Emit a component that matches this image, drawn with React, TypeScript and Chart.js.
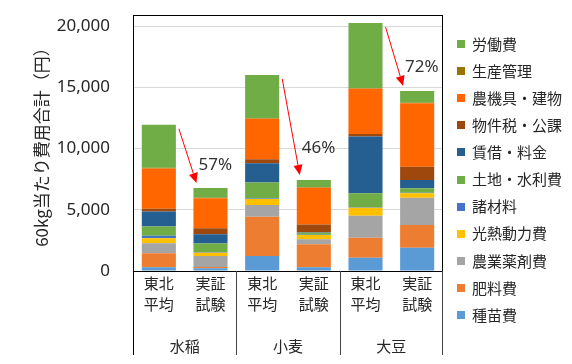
import React, { useEffect, useRef } from "react";
import { Chart, registerables } from "chart.js";

Chart.register(...registerables);

const categories = [
  ["東北", "平均"],
  ["実証", "試験"],
  ["東北", "平均"],
  ["実証", "試験"],
  ["東北", "平均"],
  ["実証", "試験"],
];
const groups = ["水稲", "小麦", "大豆"];
const ratioLabels = ["57%", "46%", "72%"];
const yTicks = [0, 5000, 10000, 15000, 20000];
const yTitle = "60kg当たり費用合計（円）";

// series values (bottom to top of stack)
const seedCost = [300, 220, 1225, 300, 1090, 1900]; // 種苗費
const fertilizer = [1150, 100, 3210, 1880, 1630, 1860]; // 肥料費
const agrochemical = [820, 900, 955, 410, 1800, 2230]; // 農業薬剤費
const energy = [410, 275, 490, 350, 650, 360]; // 光熱動力費
const materials = [190, 40, 40, 20, 40, 30]; // 諸材料
const landWater = [760, 720, 1295, 170, 1140, 380]; // 土地・水利費
const rental = [1225, 740, 1585, 30, 4625, 675]; // 賃借・料金
const taxes = [220, 490, 330, 630, 215, 1085]; // 物件税・公課
const machinery = [3300, 2450, 3300, 3015, 3680, 5180]; // 農機具・建物
const management = [60, 40, 50, 40, 60, 40]; // 生産管理
const labor = [3500, 800, 3530, 590, 5310, 960]; // 労働費

const seriesNames = [
  "種苗費",
  "肥料費",
  "農業薬剤費",
  "光熱動力費",
  "諸材料",
  "土地・水利費",
  "賃借・料金",
  "物件税・公課",
  "農機具・建物",
  "生産管理",
  "労働費",
];
const seriesValues = [
  seedCost,
  fertilizer,
  agrochemical,
  energy,
  materials,
  landWater,
  rental,
  taxes,
  machinery,
  management,
  labor,
];
const seriesColors = [
  "#5B9BD5",
  "#ED7D31",
  "#A5A5A5",
  "#FFC000",
  "#4472C4",
  "#70AD47",
  "#255E91",
  "#9E480E",
  "#FF6600",
  "#997300",
  "#70AD47",
];

const CJK = "'Noto Sans CJK JP', 'Noto Sans', sans-serif";
const LATIN = "'Noto Sans', 'DejaVu Sans', sans-serif";
const TEXT = "#262626";

const overlayPlugin = {
  id: "overlay",
  afterDatasetsDraw(chart: any) {
    const { ctx, chartArea: a, scales } = chart;
    const x = scales.x;
    ctx.save();
    // frame of plot area
    ctx.strokeStyle = "#000";
    ctx.lineWidth = 1;
    ctx.strokeRect(a.left + 0.5, a.top + 0.5, a.right - a.left - 1, a.bottom - a.top);
    // group separators on category axis
    const sepBottom = a.bottom + 84;
    for (let k = 0; k <= groups.length; k++) {
      let px: number;
      if (k === 0) px = a.left + 0.5;
      else if (k === groups.length) px = a.right - 0.5;
      else px = Math.round((x.getPixelForValue(k * 2 - 1) + x.getPixelForValue(k * 2)) / 2) + 0.5;
      ctx.strokeStyle = k === 0 ? "#000" : "#444";
      ctx.beginPath();
      ctx.moveTo(px, a.bottom);
      ctx.lineTo(px, sepBottom);
      ctx.stroke();
    }
    // group labels
    ctx.fillStyle = TEXT;
    ctx.font = `15px ${CJK}`;
    ctx.textAlign = "center";
    ctx.textBaseline = "middle";
    groups.forEach((g, k) => {
      const cx = (x.getPixelForValue(k * 2) + x.getPixelForValue(k * 2 + 1)) / 2;
      ctx.fillText(g, cx, a.bottom + 75);
    });

    // arrows + ratio labels
    const topMeta = chart.getDatasetMeta(chart.data.datasets.length - 1);
    const labelDy = [23, 32, 24];
    groups.forEach((_, k) => {
      const b1 = topMeta.data[k * 2];
      const b2 = topMeta.data[k * 2 + 1];
      const sx = b1.x + b1.width / 2 + 3;
      const sy = b1.y + 4;
      const ex = b2.x - b2.width / 2 + 3;
      const ey = b2.y - 5;
      const ang = Math.atan2(ey - sy, ex - sx);
      const head = 10;
      const hw = 4.5;
      const bx = ex - head * Math.cos(ang);
      const by = ey - head * Math.sin(ang);
      ctx.strokeStyle = "#FF0000";
      ctx.fillStyle = "#FF0000";
      ctx.lineWidth = 1;
      ctx.beginPath();
      ctx.moveTo(sx, sy);
      ctx.lineTo(bx, by);
      ctx.stroke();
      ctx.beginPath();
      ctx.moveTo(ex, ey);
      ctx.lineTo(bx + hw * Math.sin(ang), by - hw * Math.cos(ang));
      ctx.lineTo(bx - hw * Math.sin(ang), by + hw * Math.cos(ang));
      ctx.closePath();
      ctx.fill();

      ctx.fillStyle = "#333";
      ctx.font = `17px ${LATIN}`;
      ctx.textAlign = "left";
      ctx.textBaseline = "middle";
      ctx.fillText(ratioLabels[k], b2.x - b2.width / 2 + 5, b2.y - labelDy[k]);
    });
    ctx.restore();
  },
  afterDraw(chart: any) {
    const { ctx, chartArea: a } = chart;
    const ds = chart.data.datasets;
    ctx.save();
    ctx.font = `15px ${CJK}`;
    ctx.textAlign = "left";
    ctx.textBaseline = "middle";
    for (let i = 0; i < ds.length; i++) {
      const d = ds[ds.length - 1 - i];
      const cy = a.top + 29 + i * 27.1;
      ctx.fillStyle = d.backgroundColor;
      ctx.fillRect(a.right + 14, Math.round(cy - 4), 8, 8);
      ctx.fillStyle = TEXT;
      ctx.fillText(d.label, a.right + 29, cy);
    }
    ctx.restore();
  },
};

export default function App() {
  const canvasRef = useRef<HTMLCanvasElement | null>(null);

  useEffect(() => {
    const canvas = canvasRef.current;
    if (!canvas) return;
    const chart = new Chart(canvas, {
      type: "bar",
      data: {
        labels: categories as any,
        datasets: seriesNames.map((name, i) => ({
          label: name,
          data: seriesValues[i],
          backgroundColor: seriesColors[i],
          borderWidth: 0,
          barPercentage: 0.66,
          categoryPercentage: 1,
        })),
      },
      options: {
        responsive: false,
        animation: false,
        devicePixelRatio: 1,
        layout: { padding: { top: 15, right: 129, bottom: 0, left: 0 } },
        plugins: {
          legend: { display: false },
          tooltip: { enabled: false },
        },
        scales: {
          x: {
            stacked: true,
            grid: { display: false, drawTicks: false },
            border: { display: false },
            afterFit: (s: any) => {
              s.height = 93;
              s.paddingLeft = 0;
              s.paddingRight = 0;
            },
            ticks: {
              padding: 1,
              autoSkip: false,
              maxRotation: 0,
              color: TEXT,
              font: { family: CJK, size: 15, lineHeight: 1.45 },
            },
          },
          y: {
            stacked: true,
            min: 0,
            max: 20900,
            afterBuildTicks: (s: any) => {
              s.ticks = yTicks.map((v) => ({ value: v }));
            },
            afterFit: (s: any) => {
              s.width = 133;
              s.paddingTop = 0;
              s.paddingBottom = 0;
            },
            grid: { color: "#d9d9d9", drawTicks: false },
            border: { display: false },
            ticks: {
              padding: 23,
              color: TEXT,
              font: { family: LATIN, size: 17 },
              callback: (v: any) => Number(v).toLocaleString("en-US"),
            },
            title: {
              display: true,
              text: yTitle,
              color: TEXT,
              font: { family: CJK, size: 17 },
              padding: { top: 31, bottom: 0 },
            },
          },
        },
      },
      plugins: [overlayPlugin],
    });
    return () => chart.destroy();
  }, []);

  return (
    <div style={{ position: "fixed", left: 0, top: 0, width: 572, height: 364, background: "#fff" }}>
      <canvas ref={canvasRef} width={572} height={364} style={{ display: "block" }} />
    </div>
  );
}
